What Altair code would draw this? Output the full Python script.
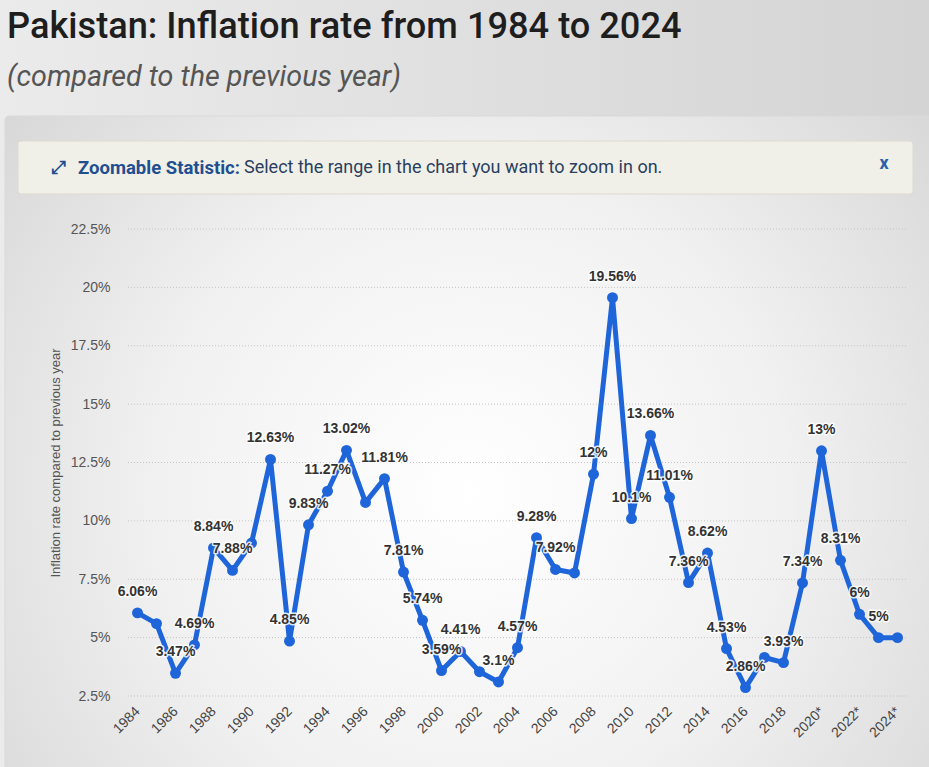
import altair as alt
import pandas as pd

# ---------------- data ----------------
years = list(range(1984, 2025))
inflation = [6.06, 5.6, 3.47, 4.69, 8.84, 7.88, 9.05, 12.63, 4.85, 9.83,
             11.27, 13.02, 10.79, 11.81, 7.81, 5.74, 3.59, 4.41, 3.54, 3.1,
             4.57, 9.28, 7.92, 7.77, 12.0, 19.56, 10.1, 13.66, 11.01, 7.36,
             8.62, 4.53, 2.86, 4.15, 3.93, 7.34, 13.0, 8.31, 6.0, 5.0, 5.0]
point_labels = ["6.06%", "", "3.47%", "4.69%", "8.84%", "7.88%", "", "12.63%", "4.85%", "9.83%",
                "11.27%", "13.02%", "", "11.81%", "7.81%", "5.74%", "3.59%", "4.41%", "", "3.1%",
                "4.57%", "9.28%", "7.92%", "", "12%", "19.56%", "10.1%", "13.66%", "11.01%", "7.36%",
                "8.62%", "4.53%", "2.86%", "", "3.93%", "7.34%", "13%", "8.31%", "6%", "5%", ""]
x_ticks = list(range(1984, 2025, 2))
y_ticks = [2.5, 5, 7.5, 10, 12.5, 15, 17.5, 20, 22.5]

title_text = "Pakistan: Inflation rate from 1984 to 2024"
subtitle_text = "(compared to the previous year)"
banner_bold = "Zoomable Statistic:"
banner_text = "Select the range in the chart you want to zoom in on."
y_title = "Inflation rate compared to previous year"

df = pd.DataFrame({"year": years, "value": inflation, "label": point_labels})
grid_df = pd.DataFrame({"value": y_ticks})

W, H = 779, 467
PAD_L, PAD_T = 128, 229
LINE = "#1f65da"

one = alt.Data(values=[{"k": 1}])

# ---------------- decoration ----------------
page_bg = alt.Chart(one).mark_rect(
    fill=alt.LinearGradient(gradient="linear", x1=0, y1=0, x2=1, y2=0,
                            stops=[alt.GradientStop(color="#ebebeb", offset=0),
                                   alt.GradientStop(color="#d4d4d4", offset=1)])
).encode(x=alt.value(-PAD_L), x2=alt.value(929 - PAD_L),
         y=alt.value(-PAD_T), y2=alt.value(767 - PAD_T))

card = alt.Chart(one).mark_rect(
    cornerRadius=4, stroke="#d9d9d9", strokeWidth=1,
    fill=alt.RadialGradient(gradient="radial", x1=0.5, y1=0.55, x2=0.5, y2=0.55, r1=0, r2=0.75,
                            stops=[alt.GradientStop(color="#ffffff", offset=0),
                                   alt.GradientStop(color="#f1f1f1", offset=0.45),
                                   alt.GradientStop(color="#cfcfcf", offset=1)])
).encode(x=alt.value(5 - PAD_L), x2=alt.value(935 - PAD_L),
         y=alt.value(116 - PAD_T), y2=alt.value(775 - PAD_T))

banner = alt.Chart(one).mark_rect(
    cornerRadius=3, fill="#f0f0e8", stroke="#dcdad0", strokeWidth=1
).encode(x=alt.value(18 - PAD_L), x2=alt.value(913 - PAD_L),
         y=alt.value(141 - PAD_T), y2=alt.value(194 - PAD_T))

def deco_text(txt, px, py, size, color, weight="normal", style="normal", font="Roboto", align="left"):
    return alt.Chart(one).mark_text(
        text=txt, font=font, fontSize=size, fontWeight=weight, fontStyle=style,
        color=color, align=align, baseline="middle"
    ).encode(x=alt.value(px - PAD_L), y=alt.value(py - PAD_T))

t_title = deco_text(title_text, 7, 27, 36.2, "#1e1e1e", weight=500)
t_sub = deco_text(subtitle_text, 7, 77, 28.7, "#555555", style="italic")
t_icon = deco_text("⤢", 58, 168, 18, "#1f4f91", weight="bold", font="DejaVu Sans", align="center")
t_bold = deco_text(banner_bold, 78, 168, 18.5, "#1f4f91", weight="bold")
t_ban = deco_text(banner_text, 244, 168, 18, "#2a3f5f")
t_x = deco_text("x", 884, 164, 18, "#2a5ea8", weight="bold", align="center")

# ---------------- data layers ----------------
x_enc = alt.X("year:Q",
              scale=alt.Scale(domain=[1983.5, 2024.5], nice=False, zero=False),
              axis=alt.Axis(values=x_ticks, title=None, grid=False, domain=False, ticks=False,
                            labelAngle=-45, labelAlign="right", labelBaseline="middle",
                            labelPadding=13, labelFontSize=14, labelColor="#444444",
                            labelFont="Liberation Sans", labelOverlap=False, labelFlush=False,
                            zindex=1,
                            labelExpr="datum.value >= 2020 ? datum.value + '*' : '' + datum.value"))
y_enc = alt.Y("value:Q",
              scale=alt.Scale(domain=[2.5, 22.5], nice=False, zero=False),
              axis=alt.Axis(values=y_ticks, title=y_title, domain=False, ticks=False, grid=False,
                            labelPadding=18, labelFontSize=14, labelColor="#555555",
                            labelFont="Liberation Sans", zindex=1,
                            labelExpr="format(datum.value, '~g') + '%'",
                            titleFont="Liberation Sans", titleFontSize=13, titleFontWeight="normal",
                            titleColor="#555555", titleAngle=-90, titleX=-73,
                            titleAlign="center", titleBaseline="middle"))

grid = alt.Chart(grid_df).mark_rule(color="#c4c4c4", strokeDash=[1, 2], strokeWidth=1).encode(
    y=alt.Y("value:Q"), x=alt.value(0), x2=alt.value(W))

base = alt.Chart(df).encode(x=x_enc, y=y_enc)

line = base.mark_line(color=LINE, strokeWidth=5, strokeJoin="round")
dots = base.mark_circle(color=LINE, size=120, opacity=1)
halo = base.mark_text(font="Liberation Sans", fontSize=14, fontWeight="bold", dy=-21,
                      stroke="white", strokeWidth=3, strokeOpacity=0.85, strokeJoin="round",
                      fill="white").encode(text="label:N")
labels = base.mark_text(font="Liberation Sans", fontSize=14, fontWeight="bold", dy=-21,
                        color="#333333").encode(text="label:N")

chart = alt.layer(page_bg, card, banner, t_title, t_sub, t_icon, t_bold, t_ban, t_x,
                  base.mark_point(opacity=0), grid, line, dots, halo, labels).properties(
    width=W, height=H,
    padding={"left": PAD_L, "top": PAD_T, "right": 929 - PAD_L - W, "bottom": 767 - PAD_T - H},
    autosize=alt.AutoSizeParams(type="none"),
    background="#e2e2e2",
).configure_view(strokeWidth=0)

chart.save("out.html", embed_options={"renderer": "svg", "actions": False})
